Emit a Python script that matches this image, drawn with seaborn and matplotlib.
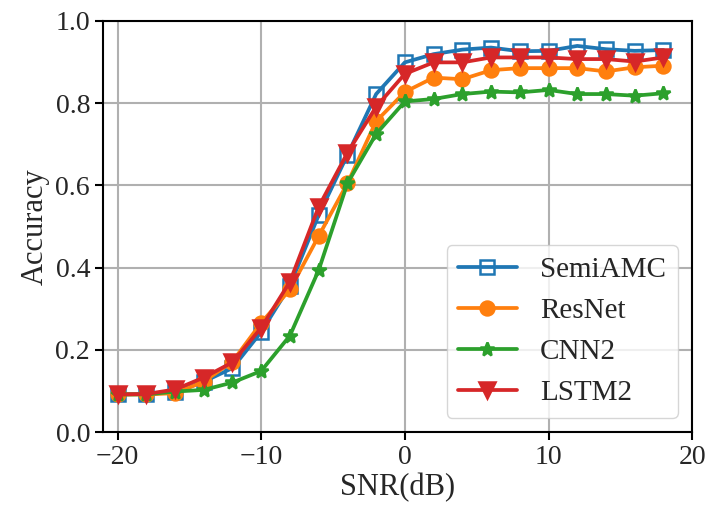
import pandas as pd
import matplotlib
matplotlib.use("Agg")
import matplotlib.pyplot as plt
import seaborn as sns

# SNR values (dB)
snr = [-20, -18, -16, -14, -12, -10, -8, -6, -4, -2, 0, 2, 4, 6, 8, 10, 12, 14, 16, 18]

# accuracy
semiamc = [0.092, 0.093, 0.097, 0.123, 0.156, 0.244, 0.356, 0.528, 0.674, 0.822,
           0.899, 0.919, 0.930, 0.935, 0.926, 0.927, 0.939, 0.931, 0.927, 0.929]
resnet = [0.092, 0.092, 0.095, 0.123, 0.172, 0.266, 0.347, 0.477, 0.605, 0.756,
          0.827, 0.862, 0.858, 0.880, 0.885, 0.885, 0.885, 0.877, 0.887, 0.891]
cnn2 = [0.092, 0.092, 0.099, 0.103, 0.121, 0.149, 0.235, 0.394, 0.605, 0.725,
        0.804, 0.810, 0.822, 0.828, 0.826, 0.832, 0.822, 0.822, 0.818, 0.824]
lstm2 = [0.092, 0.093, 0.104, 0.133, 0.170, 0.254, 0.366, 0.548, 0.679, 0.791,
         0.871, 0.899, 0.899, 0.911, 0.911, 0.911, 0.907, 0.907, 0.901, 0.911]

models = ["SemiAMC", "ResNet", "CNN2", "LSTM2"]
colors = ["#1f77b4", "#ff7f0e", "#2ca02c", "#d62728"]
markers = ["s", "o", "*", "v"]
msizes = [10, 10, 10, 11]

df = pd.DataFrame({"SNR": snr, "SemiAMC": semiamc, "ResNet": resnet,
                   "CNN2": cnn2, "LSTM2": lstm2})
df = df.melt(id_vars="SNR", var_name="Model", value_name="Accuracy")

sns.set_style("ticks")
plt.rcParams["font.family"] = ["Liberation Serif", "DejaVu Serif"]

fig = plt.figure(figsize=(7.07, 5.14), dpi=100)
ax = fig.add_axes([0.146, 0.159, 0.833, 0.8005])

for m, c, mk, ms in zip(models, colors, markers, msizes):
    sub = df[df["Model"] == m]
    face = "none" if mk == "s" else c
    sns.lineplot(data=sub, x="SNR", y="Accuracy", ax=ax, color=c, marker=mk,
                 linewidth=2.7, linestyle="-", label=m, markersize=ms,
                 markerfacecolor=face, markeredgecolor=c, markeredgewidth=1.8)

ax.set_xlim(-21, 19.9)
ax.set_ylim(0, 1.0)
ax.set_xticks([-20, -10, 0, 10, 20])
ax.set_yticks([0.0, 0.2, 0.4, 0.6, 0.8, 1.0])
ax.grid(True, color="#b0b0b0", linewidth=1.5)
ax.set_axisbelow(True)
for s in ax.spines.values():
    s.set_color("black")
    s.set_linewidth(1.5)
ax.tick_params(labelsize=20, width=1.5, length=6, color="black")
ax.set_xlabel("SNR(dB)", fontsize=22, labelpad=2)
ax.set_ylabel("Accuracy", fontsize=22, labelpad=4)
ax.legend(loc="lower right", fontsize=21, frameon=True, framealpha=0.8,
          borderpad=0.4, handlelength=2.0, labelspacing=0.5)

fig.savefig("out.png", dpi=100)
